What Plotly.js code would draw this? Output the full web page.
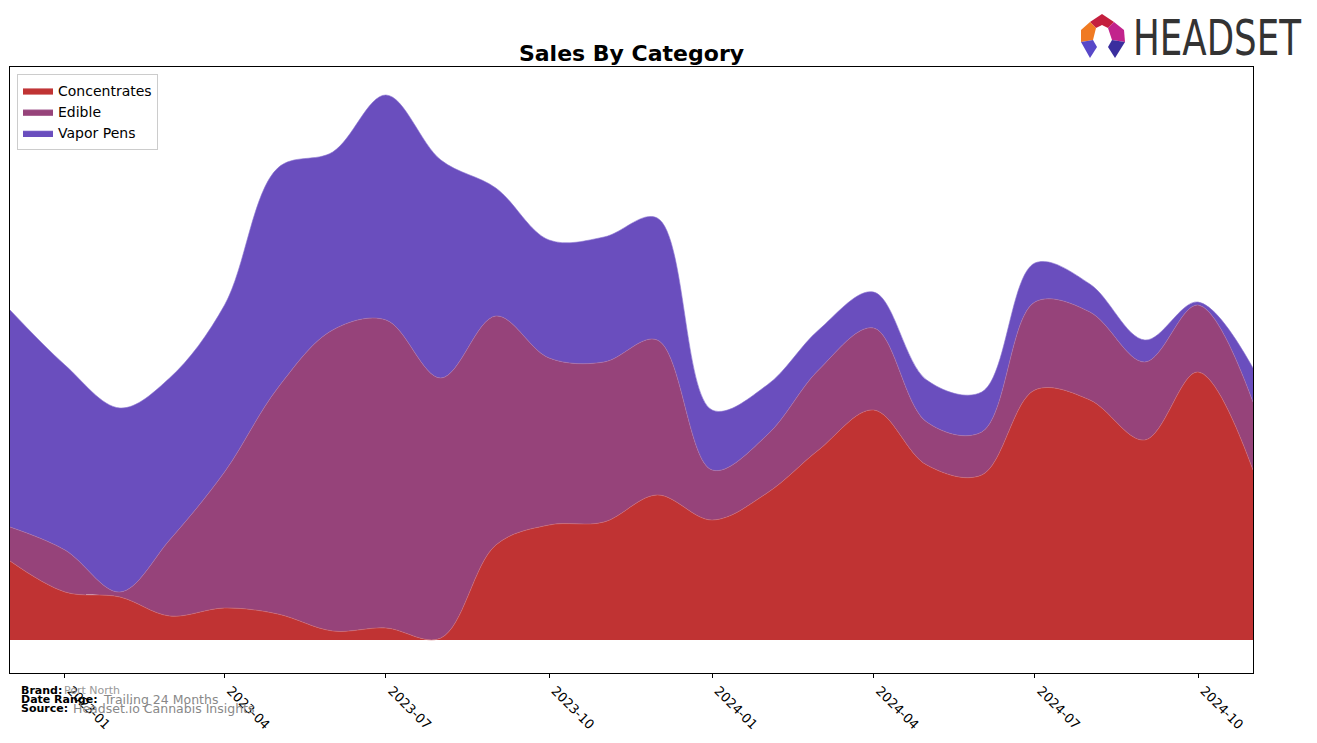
<!DOCTYPE html>
<html>
<head>
<meta charset="utf-8">
<script src="https://cdn.plot.ly/plotly-3.0.1.min.js"></script>
<style>
  html, body { margin: 0; padding: 0; background: #fff; }
  #wrap { position: relative; width: 1317px; height: 743px; }
  #chart { position: absolute; left: 0; top: 0; width: 1317px; height: 743px; }
  #logo { position: absolute; left: 0; top: 0; pointer-events: none; }
</style>
</head>
<body>
<div id="wrap">
  <div id="chart"></div>
  <svg id="logo" width="1317" height="70" xmlns="http://www.w3.org/2000/svg">
    <polygon points="1090,22 1102,14 1114,22 1108,28 1102,25 1096,28" fill="#c41f3e"/>
    <polygon points="1090,22 1096,28 1093,40 1081,42 1081,30" fill="#f07a22"/>
    <polygon points="1114,22 1124,30 1125,42 1112,40 1108,28" fill="#c2238c"/>
    <polygon points="1081,42 1093,40 1097,47 1090,58" fill="#5848c8"/>
    <polygon points="1112,40 1125,42 1115,58 1108,47" fill="#3a2e9e"/>
    <text x="1133" y="55" font-family="Liberation Sans Narrow, DejaVu Sans Condensed, Liberation Sans, sans-serif" font-size="50" fill="#333333" textLength="168" lengthAdjust="spacingAndGlyphs">HEADSET</text>
  </svg>
</div>
<script>
const months = ['2022-12-01','2023-01-01','2023-02-01','2023-03-01','2023-04-01','2023-05-01',
  '2023-06-01','2023-07-01','2023-08-01','2023-09-01','2023-10-01','2023-11-01','2023-12-01',
  '2024-01-01','2024-02-01','2024-03-01','2024-04-01','2024-05-01','2024-06-01','2024-07-01',
  '2024-08-01','2024-09-01','2024-10-01','2024-11-01'];
const concentrates = [79, 48, 43, 24, 32, 26, 9, 12, 2, 95, 115, 118, 145, 120, 147, 190, 230, 175, 165, 250, 240, 200, 268, 170];
const edible       = [34, 42, 5, 76, 136, 226, 301, 308, 260, 229, 167, 160, 155, 50, 58, 80, 82, 43, 43, 88, 88, 78, 67, 68];
const vaporPens    = [217, 185, 184, 162, 167, 220, 178, 225, 218, 128, 118, 125, 122, 60, 50, 40, 36, 42, 40, 39, 28, 22, 3, 34];
const seriesNames  = ['Concentrates', 'Edible', 'Vapor Pens'];
const seriesColors = ['#c03333', '#96437a', '#6a4ebe'];
const lineColors   = ['#d06a70', '#b070a0', '#8a74d0'];

const seriesData = [concentrates, edible, vaporPens];
const traces = seriesData.map((vals, i) => ({
  x: months,
  y: vals,
  name: seriesNames[i],
  type: 'scatter',
  mode: 'lines',
  stackgroup: 'one',
  line: { shape: 'spline', smoothing: 1, width: 0.6, color: lineColors[i] },
  fillcolor: seriesColors[i],
  hoverinfo: 'skip'
}));

const W = 1317, H = 743, L = 10, R = 1253, T = 67, B = 673;
const px = v => (v - L) / (R - L);
const py = v => (B - v) / (B - T);
const footFont = 'DejaVu Sans, sans-serif';
const annotations = [
  { text: '<b>Brand:</b>', x: px(19), y: py(690), font: { size: 11, color: '#000', family: footFont } },
  { text: 'Port North', x: px(62), y: py(690), font: { size: 11, color: '#999', family: footFont } },
  { text: '<b>Date Range:</b>', x: px(19), y: py(699), font: { size: 11, color: '#000', family: footFont } },
  { text: 'Trailing 24 Months', x: px(101), y: py(699), font: { size: 12.5, color: '#888', family: footFont } },
  { text: '<b>Source:</b>', x: px(19), y: py(708), font: { size: 11, color: '#000', family: footFont } },
  { text: 'Headset.io Cannabis Insights', x: px(71), y: py(708), font: { size: 12.5, color: '#888', family: footFont } }
].map(a => Object.assign({ xref: 'paper', yref: 'paper', xanchor: 'left', yanchor: 'middle', showarrow: false }, a));

const layout = {
  width: W, height: H,
  margin: { l: L, r: W - R, t: T, b: H - B, pad: 0 },
  paper_bgcolor: '#fff', plot_bgcolor: '#fff',
  font: { family: 'DejaVu Sans, sans-serif', color: '#000' },
  title: {
    text: '<b>Sales By Category</b>',
    font: { size: 22, family: 'DejaVu Sans, sans-serif', color: '#000' },
    x: (L + R) / 2 / W, xanchor: 'center', xref: 'container',
    y: 1 - 53 / H, yanchor: 'middle', yref: 'container'
  },
  xaxis: {
    type: 'date',
    range: ['2022-12-01', '2024-11-01'],
    tick0: '2023-01-01', dtick: 'M3', tickformat: '%Y-%m',
    tickangle: 45,
    ticklabelshift: 6,
    ticks: 'outside', ticklen: 4, tickwidth: 1, tickcolor: '#000',
    tickfont: { size: 13, family: 'DejaVu Sans, sans-serif', color: '#000' },
    showline: true, linecolor: '#000', linewidth: 1, mirror: true,
    showgrid: false, zeroline: false
  },
  yaxis: {
    range: [-33, 573],
    showticklabels: false, ticks: '',
    showline: true, linecolor: '#000', linewidth: 1, mirror: true,
    showgrid: false, zeroline: false
  },
  legend: {
    x: px(17), y: py(74), xanchor: 'left', yanchor: 'top',
    bgcolor: 'rgba(255,255,255,0.8)', bordercolor: '#cccccc', borderwidth: 1,
    font: { size: 14, family: 'DejaVu Sans, sans-serif', color: '#000' },
    traceorder: 'normal'
  },
  showlegend: true,
  annotations: annotations
};

Plotly.newPlot('chart', traces, layout, { staticPlot: true, displayModeBar: false });
</script>
</body>
</html>
